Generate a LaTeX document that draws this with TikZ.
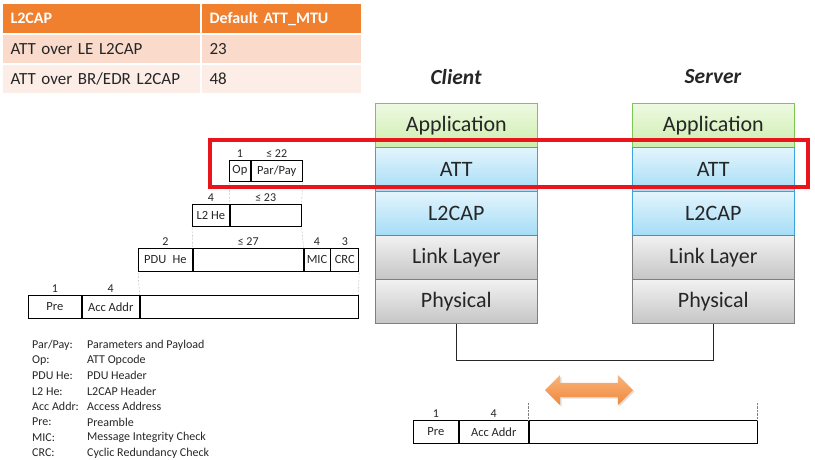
\documentclass[tikz,border=0pt]{standalone}
\usepackage{fontspec}
\setmainfont{Carlito}
\usetikzlibrary{positioning,shapes.arrows,shadows}
\definecolor{mtuorange}{HTML}{F0802E}
\definecolor{rowpink}{HTML}{F9DACB}
\definecolor{rowlight}{HTML}{FCEDE6}
\definecolor{appgreen}{HTML}{7CC753}
\definecolor{apptop}{HTML}{EEF9E2}
\definecolor{appbot}{HTML}{CDEEAE}
\definecolor{attblue}{HTML}{39A5DB}
\definecolor{atttop}{HTML}{E3F5FD}
\definecolor{attbot}{HTML}{A6DCF6}
\definecolor{llgray}{HTML}{7F7F7F}
\definecolor{lltop}{HTML}{F2F2F2}
\definecolor{llbot}{HTML}{C6C6C6}
\definecolor{framered}{HTML}{E8161C}
\definecolor{arrowtop}{HTML}{F9B47C}
\definecolor{arrowbot}{HTML}{F0883A}
\definecolor{textdark}{HTML}{262626}

\tikzset{
  thead/.style={fill=mtuorange, draw=white, line width=1pt, text=white,
    font=\fontsize{16}{18}\selectfont\bfseries, minimum height=30pt,
    inner xsep=8pt, align=left, anchor=north west},
  trow/.style={draw=white, line width=1pt, text=textdark,
    font=\fontsize{17}{19}\selectfont, minimum height=29pt,
    inner xsep=8pt, align=left, anchor=north west},
  layer/.style={minimum width=162pt, minimum height=44pt, inner sep=0pt,
    text=textdark, font=\fontsize{22}{26}\selectfont, line width=0.6pt},
  applayer/.style={layer, draw=appgreen, top color=apptop, bottom color=appbot},
  protolayer/.style={layer, draw=attblue, top color=atttop, bottom color=attbot},
  ctrllayer/.style={layer, draw=llgray, top color=lltop, bottom color=llbot},
  stacktitle/.style={font=\fontsize{21.5}{24}\selectfont\bfseries\itshape, text=textdark},
  field/.style={draw, line width=0.8pt, inner sep=0pt, text=textdark,
    font=\fontsize{12.5}{14}\selectfont},
  bytecount/.style={font=\fontsize{12}{14}\selectfont, inner sep=1pt, text=textdark},
  guide/.style={densely dotted, gray, line width=0.4pt},
  legend/.style={anchor=west, inner sep=0pt, font=\fontsize{12}{14}\selectfont, text=textdark},
  redframe/.style={draw=framered, line width=3.5pt},
  wire/.style={line width=1.6pt, draw=black!85}
}

\begin{document}
\begin{tikzpicture}[x=1pt,y=-1pt]
  \useasboundingbox (0,0) rectangle (815,459);

  \node[thead, text width=182pt] (h1) at (2,3) {L2CAP};
  \node[thead, text width=144pt, right=0pt of h1] (h2) {Default ATT\_MTU};
  \node[trow, fill=rowpink, text width=182pt, below=0pt of h1] (r1a) {ATT over LE L2CAP};
  \node[trow, fill=rowpink, text width=144pt, right=0pt of r1a] (r1b) {23};
  \node[trow, fill=rowlight, text width=182pt, below=0pt of r1a] (r2a) {ATT over BR/EDR L2CAP};
  \node[trow, fill=rowlight, text width=144pt, right=0pt of r2a] (r2b) {48};

  \foreach \side/\xx/\who in {c/375/Client, s/632/Server} {
    \node[stacktitle] (\side title) at (\xx+81,77) {\who};
    \foreach \lay/\txt/\sty [count=\k] in {app/Application/applayer, att/ATT/protolayer,
        l2cap/L2CAP/protolayer, link/Link Layer/ctrllayer, phy/Physical/ctrllayer}
      \node[\sty, anchor=north west] (\side\lay) at (\xx,{103+44*(\k-1)}) {\txt};
  }
  \draw[wire] (cphy.south) -- ++(0,37) -| (sphy.south);

  \node[double arrow, double arrow head extend=8pt, inner xsep=0pt, inner ysep=7pt,
        minimum height=88pt, top color=arrowtop, bottom color=arrowbot,
        drop shadow={opacity=0.25, shadow xshift=1.5pt, shadow yshift=-1.5pt}] (airlink) at (589,390) {};

  \node[field, minimum width=45pt, minimum height=23pt, anchor=north west] (rpre) at (413,420) {Pre};
  \node[field, minimum width=69pt, minimum height=23pt, right=0pt of rpre] (racc) {Acc Addr};
  \node[field, minimum width=228pt, minimum height=23pt, right=0pt of racc] (rpay) {};
  \node[bytecount, above=1pt of rpre] {1};
  \node[bytecount, above=1pt of racc] {4};
  \draw[guide] (rpay.north west) -- ++(0,-17);
  \draw[guide] (rpay.north east) -- ++(0,-17);

  \node[field, minimum width=21pt, minimum height=21pt, anchor=north west] (op) at (229,160) {Op};
  \node[field, minimum width=51pt, minimum height=21pt, right=0pt of op] (parpay) {Par/Pay};
  \node[field, minimum width=37pt, minimum height=22pt, anchor=north west] (l2he) at (192,204) {L2 He};
  \node[field, minimum width=71pt, minimum height=22pt, right=0pt of l2he] (l2pay) {};
  \node[field, minimum width=54pt, minimum height=23pt, anchor=north west] (pduhe) at (138,248) {PDU\enspace He};
  \node[field, minimum width=110pt, minimum height=23pt, right=0pt of pduhe] (pdupay) {};
  \node[field, minimum width=26pt, minimum height=23pt, right=0pt of pdupay] (mic) {MIC};
  \node[field, minimum width=28pt, minimum height=23pt, right=0pt of mic] (crc) {CRC};
  \node[field, minimum width=53pt, minimum height=23pt, anchor=north west] (lpre) at (28,295) {Pre};
  \node[field, minimum width=57pt, minimum height=23pt, right=0pt of lpre] (lacc) {Acc Addr};
  \node[field, minimum width=218pt, minimum height=23pt, right=0pt of lacc] (lpay) {};

  \node[bytecount, above=1pt of op] {1};
  \node[bytecount, above=1pt of parpay] {≤ 22};
  \node[bytecount, above=1pt of l2he] {4};
  \node[bytecount, above=1pt of l2pay] {≤ 23};
  \node[bytecount, above=1pt of pduhe] {2};
  \node[bytecount, above=1pt of pdupay] {≤ 27};
  \node[bytecount, above=1pt of mic] {4};
  \node[bytecount, above=1pt of crc] {3};
  \node[bytecount, above=1pt of lpre] {1};
  \node[bytecount, above=1pt of lacc] {4};

  \draw[guide] (op.south west) -- (l2pay.north west);
  \draw[guide] (parpay.south east) -- (l2pay.north east);
  \draw[guide] (l2he.south west) -- (pdupay.north west);
  \draw[guide] (l2pay.south east) -- (pdupay.north east);
  \draw[guide] (pduhe.south west) -- (lpay.north west);
  \draw[guide] (crc.south east) -- (lpay.north east);

  \foreach \abbr/\desc [count=\i] in {{Par/Pay:}/Parameters and Payload, Op:/ATT Opcode,
      PDU He:/PDU Header, L2 He:/L2CAP Header, Acc Addr:/Access Address, Pre:/Preamble,
      MIC:/Message Integrity Check, CRC:/Cyclic Redundancy Check} {
    \node[legend] (abbr\i) at (32,{345+15.4*(\i-1)}) {\abbr};
    \node[legend] (desc\i) at (87,{345+15.4*(\i-1)}) {\desc};
  }

  \draw[redframe] (210,140) rectangle (808,187);
\end{tikzpicture}
\end{document}
